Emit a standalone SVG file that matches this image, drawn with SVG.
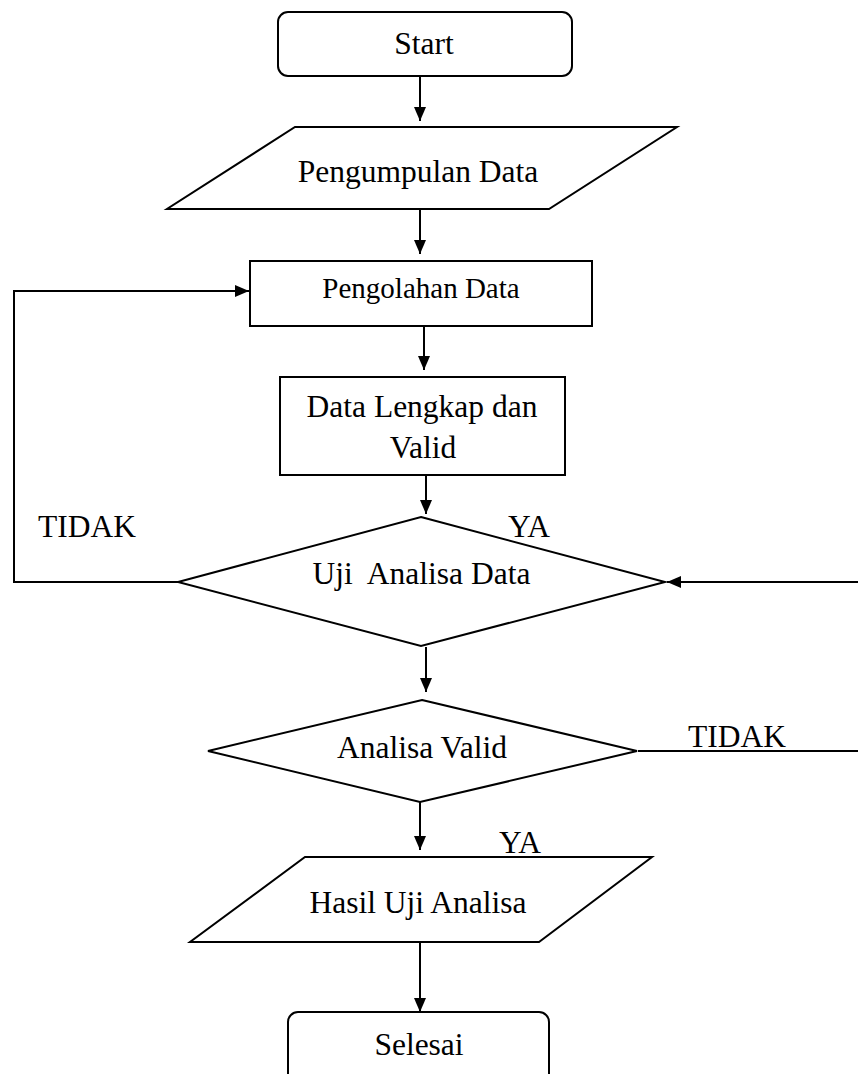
<svg xmlns="http://www.w3.org/2000/svg" width="858" height="1074" viewBox="0 0 858 1074">
<defs>
<marker id="ah" viewBox="0 0 14 14" refX="14" refY="7" markerWidth="14" markerHeight="14" markerUnits="userSpaceOnUse" orient="auto">
<path d="M0,1 L14,7 L0,13 Z" fill="#000"/>
</marker>
</defs>
<style>
.s{fill:#fff;stroke:#000;stroke-width:2}
.c{fill:none;stroke:#000;stroke-width:2}
.t{font-family:"Liberation Serif","Times New Roman",serif;font-size:31.5px;fill:#000;white-space:pre}
.m{text-anchor:middle}
</style>
<rect width="858" height="1074" fill="#fff"/>
<g id="connectors">
<line class="c" x1="420" y1="77" x2="420" y2="121" marker-end="url(#ah)"/>
<line class="c" x1="420" y1="209" x2="420" y2="254" marker-end="url(#ah)"/>
<line class="c" x1="424" y1="326" x2="424" y2="370" marker-end="url(#ah)"/>
<line class="c" x1="426" y1="475" x2="426" y2="514" marker-end="url(#ah)"/>
<line class="c" x1="426" y1="647" x2="426" y2="692" marker-end="url(#ah)"/>
<line class="c" x1="420" y1="802" x2="420" y2="850" marker-end="url(#ah)"/>
<line class="c" x1="420" y1="942" x2="420" y2="1012" marker-end="url(#ah)"/>
<polyline class="c" points="178,582 14,582 14,291 249,291" marker-end="url(#ah)"/>
<line class="c" x1="858" y1="582" x2="667" y2="582" marker-end="url(#ah)"/>
<line class="c" x1="638" y1="751" x2="858" y2="751"/>
</g>
<g id="start">
<rect class="s" x="278" y="12" width="294" height="64" rx="10"/>
<text class="t m" x="424" y="54">Start</text>
</g>
<g id="pengumpulan">
<polygon class="s" points="295,127 677,127 549,209 167,209"/>
<text class="t m" x="418" y="182">Pengumpulan Data</text>
</g>
<g id="pengolahan">
<rect class="s" x="250" y="261" width="342" height="65"/>
<text class="t m" x="421" y="298" style="font-size:29px">Pengolahan Data</text>
</g>
<g id="lengkap">
<rect class="s" x="280" y="377" width="285" height="98"/>
<text class="t m" x="422" y="417">Data Lengkap dan</text>
<text class="t m" x="423" y="458">Valid</text>
</g>
<g id="uji">
<polygon class="s" points="421,517 665,582 421,646 178,582"/>
<text class="t m" x="421.5" y="584">Uji  Analisa Data</text>
</g>
<g id="valid">
<polygon class="s" points="422,700 637,751 420,802 208,751"/>
<text class="t m" x="422" y="758">Analisa Valid</text>
</g>
<g id="hasil">
<polygon class="s" points="305,857 652,857 539,942 190,942"/>
<text class="t m" x="418" y="913">Hasil Uji Analisa</text>
</g>
<g id="selesai">
<rect class="s" x="288" y="1012" width="261" height="80" rx="10"/>
<text class="t m" x="419" y="1055">Selesai</text>
</g>
<g id="labels">
<text class="t" x="38" y="537">TIDAK</text>
<text class="t" x="508" y="537">YA</text>
<text class="t" x="688" y="747">TIDAK</text>
<text class="t" x="499" y="853">YA</text>
</g>
</svg>
